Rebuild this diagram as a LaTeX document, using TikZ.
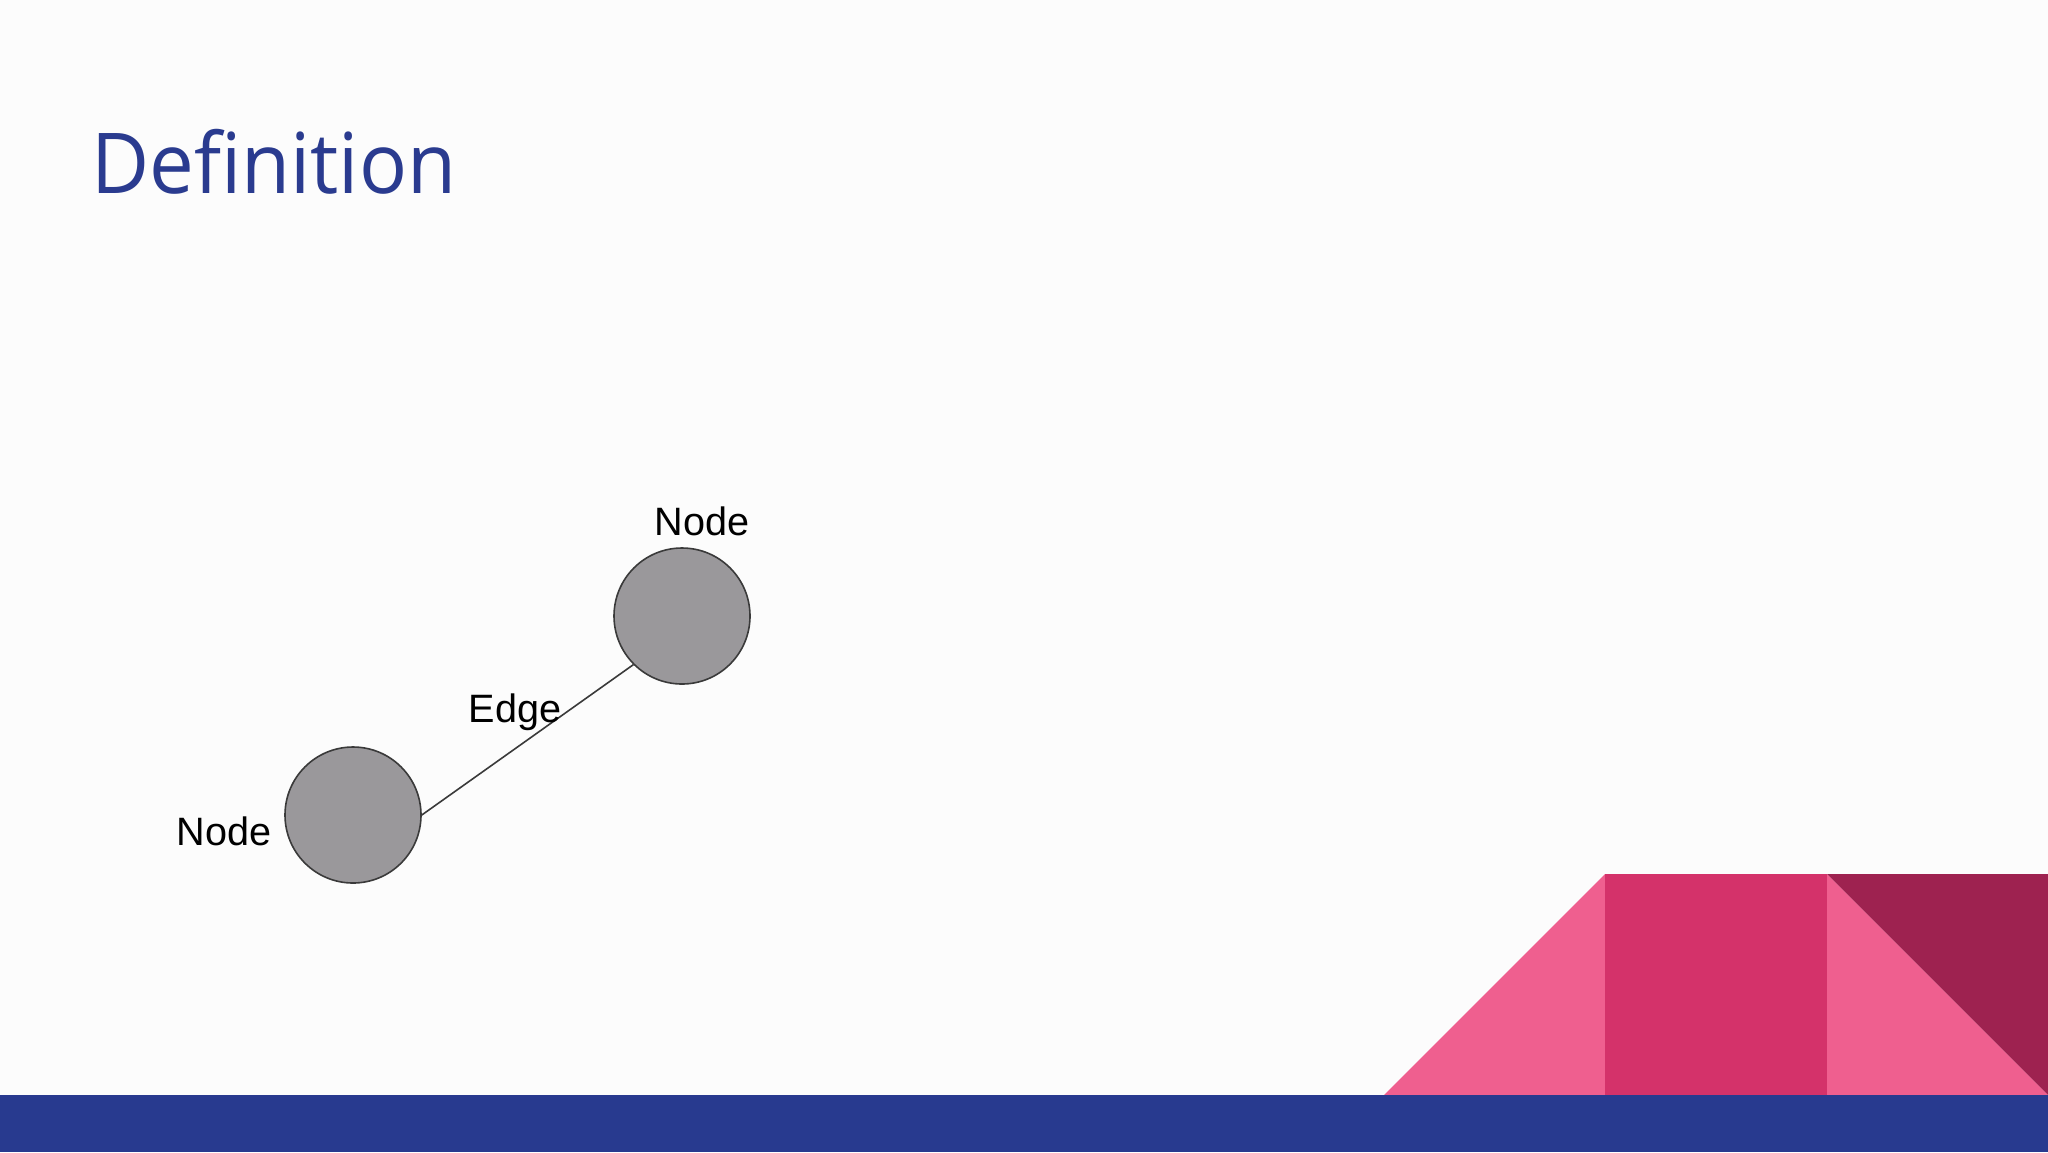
\documentclass[tikz,border=0pt]{standalone}
\usepackage{fontspec}
\setmainfont{Liberation Sans}
\newfontfamily\titlefont[FakeStretch=0.95]{Open Sans}
\definecolor{titleblue}{HTML}{2A3B8F}
\definecolor{barblue}{HTML}{283A8F}
\definecolor{lightpink}{HTML}{EF5F8F}
\definecolor{midpink}{HTML}{D4326A}
\definecolor{darkpink}{HTML}{9E2250}
\definecolor{nodegray}{HTML}{9A989B}
\definecolor{linegray}{HTML}{3A3A3A}
\tikzset{
  graphnode/.style={circle, fill=nodegray, draw=linegray, line width=0.8pt, minimum size=68pt, inner sep=0pt},
  lbl/.style={font=\fontsize{19.8pt}{23pt}\selectfont, text=black, anchor=base, inner sep=0pt},
  edgeline/.style={draw=linegray, line width=0.8pt}
}
\begin{document}
\begin{tikzpicture}[x=0.5pt, y=-0.5pt]
\useasboundingbox (0,0) rectangle (2048,1152);
\fill[white!99!black] (0,0) rectangle (2048,1152);
% title
\node[anchor=base west, inner sep=0pt, text=titleblue, font=\titlefont\fontsize{42pt}{50pt}\selectfont] (title) at (91,193) {Definition};
% decoration
\fill[lightpink] (1384,1095) -- (1605,874) -- (1605,1095) -- cycle;
\fill[midpink] (1605,874) rectangle (1827,1095);
\fill[lightpink] (1827,874) -- (2048,1095) -- (1827,1095) -- cycle;
\fill[darkpink] (1827,874) -- (2048,874) -- (2048,1095) -- cycle;
\fill[barblue] (0,1095) rectangle (2048,1152);
% graph
\node[graphnode] (a) at (682,616) {};
\node[graphnode] (b) at (353,815) {};
\draw[edgeline] (b.east) -- (a.south west);
\node[lbl] (la) at (702,535) {Node};
\node[lbl] (lb) at (224,845) {Node};
\node[lbl] (le) at (515,722) {Edge};
\end{tikzpicture}
\end{document}
